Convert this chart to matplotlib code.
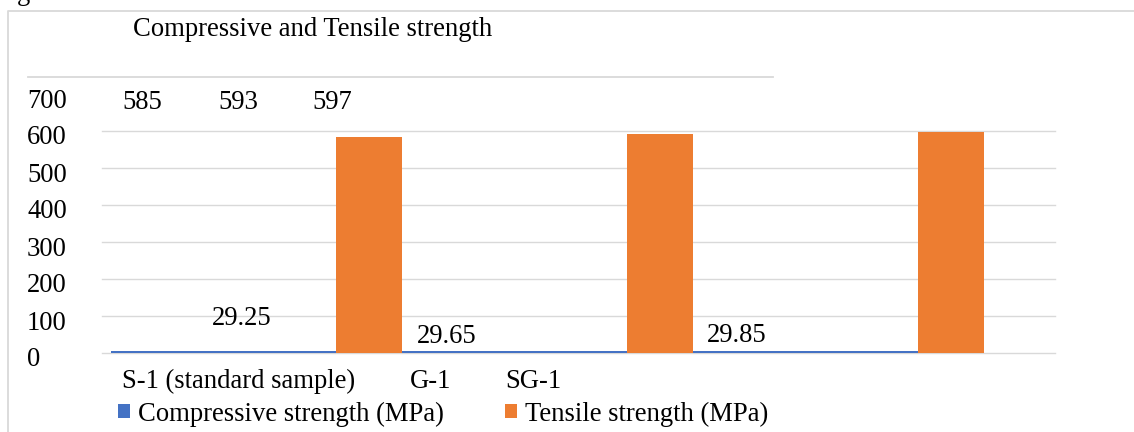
import numpy as np
import matplotlib
matplotlib.use("Agg")
import matplotlib.pyplot as plt
from matplotlib.lines import Line2D
from matplotlib.transforms import ScaledTranslation

# data
samples = ["S-1 (standard sample)", "G-1", "SG-1"]
compressive = [29.25, 29.65, 29.85]
tensile = [585, 593, 597]
yticks = [0, 100, 200, 300, 400, 500, 600, 700]

W, H = 1134, 432
plt.rcParams['font.family'] = ['Liberation Serif', 'DejaVu Serif']
plt.rcParams['font.size'] = 19.2

def fx(px):
    return px / W

def fy(py):
    return 1 - py / H

fig = plt.figure(figsize=(W / 100, H / 100), dpi=100)
ax = fig.add_axes([fx(102), fy(353), fx(1055) - fx(102), (353 - 94) / H])

x = np.arange(len(samples))
ax.bar(x, tensile, width=0.227, align='edge', color='#ED7D31', zorder=2,
       label='Tensile strength (MPa)')
ax.set_xlim(-0.804, 2.471)
ax.set_ylim(0, 700)
ax.set_yticks(yticks)
ax.set_yticklabels([str(v) for v in yticks])
ax.tick_params(axis='y', length=0, pad=54)
shift = ScaledTranslation(0, -4 / 100, fig.dpi_scale_trans)
for lbl in ax.get_yticklabels():
    lbl.set_ha('left')
    lbl.set_transform(lbl.get_transform() + shift)
ax.set_xticks([])
ax.grid(axis='y', color='#d9d9d9', linewidth=1.0)
ax.set_axisbelow(True)
for gl in ax.get_ygridlines():
    gl.set_clip_on(False)
ax.get_ygridlines()[-1].set_visible(False)
for s in ax.spines.values():
    s.set_visible(False)

# compressive values are tiny next to tensile; drawn on their own scale
ax2 = ax.twinx()
ax2.bar(x - 0.773, compressive, width=0.773, align='edge', color='#4472C4',
        label='Compressive strength (MPa)')
ax2.set_xlim(-0.804, 2.471)
ax2.set_ylim(0, 3300)
ax2.axis('off')

# data labels (as placed in the original)
for t, px in zip(tensile, [122, 218, 312]):
    fig.text(fx(px), fy(109), str(t), va='baseline', ha='left')
for c, (px, py) in zip(compressive, [(212, 325), (417, 343), (707, 342)]):
    fig.text(fx(px), fy(py), f"{c:.2f}", va='baseline', ha='left')

# category labels
for name, px in zip(samples, [122, 410, 505]):
    fig.text(fx(px), fy(388), name, va='baseline', ha='left')

fig.text(fx(133), fy(36), "Compressive and Tensile strength", va='baseline', ha='left')
fig.text(fx(17), fy(0), "g", va='baseline', ha='left')

# frame and stray line
fig.add_artist(Line2D([fx(8), fx(8), 1], [0, fy(11), fy(11)], color='#d9d9d9', lw=1.3))
fig.add_artist(Line2D([fx(28), fx(773)], [fy(76.7), fy(76.7)], color='#d9d9d9', lw=1.3))

h1, l1 = ax2.get_legend_handles_labels()
h2, l2 = ax.get_legend_handles_labels()
fig.legend(h1 + h2, l1 + l2, loc='center left', bbox_to_anchor=(fx(118), fy(414)),
           ncol=2, frameon=False, handlelength=0.45, handleheight=0.45,
           handletextpad=0.3, columnspacing=2.3, borderpad=0, borderaxespad=0)

fig.savefig("out.png", dpi=100)
